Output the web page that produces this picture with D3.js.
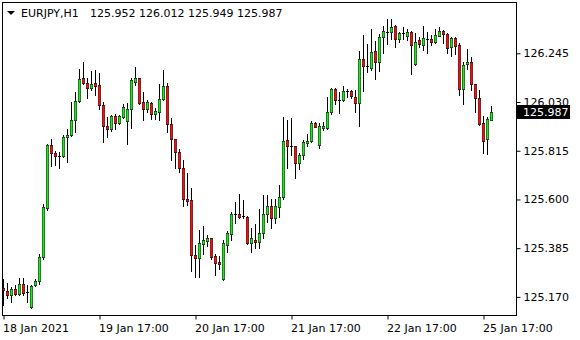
<!DOCTYPE html>
<html>
<head>
<meta charset="utf-8">
<script src="https://cdn.jsdelivr.net/npm/d3@7"></script>
<style>
  body { margin: 0; background: #fff; }
  svg { display: block; font-family: "DejaVu Sans", sans-serif; }
</style>
</head>
<body>
<div id="chart"></div>
<script>
const symbol = "EURJPY,H1"

// hourly bars, oldest first
const opens = [
  125.211, 125.195, 125.177, 125.207, 125.183, 125.229, 125.191, 125.126, 125.222, 125.241,
  125.347, 125.563, 125.840, 125.806, 125.791, 125.791, 125.874, 125.884, 125.949, 126.034,
  126.134, 126.112, 126.093, 126.112, 126.104, 126.017, 125.925, 125.911, 125.968, 125.936,
  125.965, 125.947, 125.999, 126.120, 126.134, 126.028, 125.998, 126.024, 125.975, 125.987,
  126.042, 126.099, 125.931, 125.865, 125.808, 125.741, 125.604, 125.596, 125.357, 125.342,
  125.404, 125.417, 125.428, 125.350, 125.322, 125.247, 125.401, 125.448, 125.538, 125.538,
  125.525, 125.523, 125.409, 125.423, 125.413, 125.454, 125.537, 125.572, 125.516, 125.566,
  125.612, 125.861, 125.836, 125.834, 125.759, 125.796, 125.847, 125.858, 125.937, 125.840,
  125.917, 125.917, 125.987, 126.087, 126.039, 126.037, 126.076, 126.079, 126.054, 126.024,
  126.220, 126.190, 126.182, 126.254, 126.205, 126.316, 126.339, 126.338, 126.366, 126.307,
  126.329, 126.323, 126.338, 126.196, 126.302, 126.280, 126.310, 126.307, 126.294, 126.323,
  126.342, 126.329, 126.271, 126.311, 126.283, 126.086, 126.196, 126.205, 126.108, 126.046,
  125.936, 125.865, 125.952
]
const highs = [
  125.248, 125.233, 125.214, 125.222, 125.254, 125.254, 125.222, 125.222, 125.248, 125.359,
  125.579, 125.843, 125.867, 125.814, 125.811, 125.884, 125.911, 126.031, 126.076, 126.176,
  126.208, 126.134, 126.167, 126.171, 126.157, 126.031, 125.965, 125.973, 125.975, 125.973,
  126.020, 126.027, 126.134, 126.184, 126.137, 126.076, 126.039, 126.031, 126.002, 126.109,
  126.171, 126.114, 125.958, 125.869, 125.822, 125.774, 125.716, 125.649, 125.398, 125.465,
  125.482, 125.442, 125.431, 125.361, 125.350, 125.420, 125.460, 125.546, 125.590, 125.622,
  125.597, 125.528, 125.472, 125.490, 125.557, 125.619, 125.619, 125.602, 125.602, 125.666,
  125.962, 125.949, 125.958, 125.837, 125.803, 125.862, 125.887, 125.946, 125.940, 125.936,
  125.943, 126.054, 126.093, 126.090, 126.076, 126.101, 126.087, 126.083, 126.083, 126.255,
  126.326, 126.285, 126.352, 126.301, 126.330, 126.366, 126.397, 126.395, 126.372, 126.339,
  126.363, 126.352, 126.344, 126.336, 126.319, 126.366, 126.341, 126.326, 126.354, 126.363,
  126.348, 126.333, 126.316, 126.316, 126.289, 126.207, 126.263, 126.227, 126.110, 126.083,
  125.968, 125.962, 126.012
]
const lows = [
  125.133, 125.166, 125.148, 125.177, 125.180, 125.177, 125.148, 125.119, 125.219, 125.228,
  125.337, 125.553, 125.749, 125.752, 125.740, 125.787, 125.766, 125.881, 125.896, 126.031,
  126.108, 126.046, 126.081, 126.061, 125.999, 125.852, 125.877, 125.902, 125.911, 125.931,
  125.961, 125.843, 125.917, 126.105, 126.023, 125.950, 125.987, 125.955, 125.955, 125.950,
  126.037, 125.896, 125.774, 125.740, 125.722, 125.572, 125.575, 125.283, 125.258, 125.258,
  125.360, 125.395, 125.337, 125.266, 125.292, 125.244, 125.366, 125.420, 125.494, 125.519,
  125.516, 125.404, 125.369, 125.384, 125.387, 125.428, 125.501, 125.472, 125.494, 125.523,
  125.602, 125.740, 125.796, 125.693, 125.734, 125.778, 125.834, 125.852, 125.918, 125.828,
  125.906, 125.911, 125.976, 126.020, 125.980, 126.034, 126.054, 126.046, 125.984, 125.925,
  126.079, 126.161, 126.171, 126.130, 126.168, 126.248, 126.285, 126.307, 126.271, 126.296,
  126.307, 126.304, 126.152, 126.193, 126.274, 126.258, 126.245, 126.280, 126.291, 126.320,
  126.292, 126.245, 126.235, 126.242, 126.061, 126.020, 126.174, 126.083, 125.984, 125.928,
  125.806, 125.800, 125.949
]
const closes = [
  125.200, 125.177, 125.207, 125.183, 125.229, 125.188, 125.186, 125.217, 125.242, 125.348,
  125.565, 125.840, 125.803, 125.791, 125.790, 125.875, 125.884, 125.949, 126.034, 126.132,
  126.112, 126.090, 126.108, 126.102, 126.017, 125.922, 125.911, 125.968, 125.936, 125.968,
  126.009, 125.999, 126.126, 126.134, 126.027, 125.998, 126.028, 125.975, 125.989, 126.043,
  126.099, 125.931, 125.865, 125.808, 125.740, 125.604, 125.594, 125.354, 125.342, 125.406,
  125.419, 125.429, 125.347, 125.320, 125.316, 125.410, 125.450, 125.538, 125.537, 125.523,
  125.522, 125.409, 125.428, 125.413, 125.454, 125.538, 125.572, 125.516, 125.569, 125.612,
  125.858, 125.834, 125.833, 125.759, 125.796, 125.852, 125.858, 125.937, 125.921, 125.924,
  125.924, 125.987, 126.087, 126.037, 126.036, 126.079, 126.077, 126.055, 126.024, 126.220,
  126.190, 126.189, 126.249, 126.205, 126.316, 126.344, 126.338, 126.360, 126.307, 126.333,
  126.335, 126.339, 126.280, 126.295, 126.285, 126.311, 126.308, 126.294, 126.324, 126.344,
  126.329, 126.267, 126.311, 126.279, 126.089, 126.193, 126.205, 126.108, 126.046, 125.933,
  125.859, 125.955, 125.987
]

const priceTicks = [125.170, 125.385, 125.600, 125.815, 126.030, 126.245]
const timeTickBars = [0, 24, 48, 72, 96, 120]
const timeTickLabels = ["18 Jan 2021", "19 Jan 17:00", "20 Jan 17:00", "21 Jan 17:00", "22 Jan 17:00", "25 Jan 17:00"]

const width = 580
const height = 340
const bullColor = "#14f014"
const bearColor = "#ff0a0a"

const bars = d3.range(opens.length).map(i => ({
  i: i, o: opens[i], h: highs[i], l: lows[i], c: closes[i]
}))
const last = bars[bars.length - 1]

const svg = d3.select("#chart")
  .append("svg")
  .attr("width", width)
  .attr("height", height)

const x = d3.scaleLinear().domain([0, bars.length - 1]).range([3.5, 491.5])
const y = d3.scaleLinear().domain([125.170, 126.245]).range([296.9, 53.3])

svg.append("clipPath")
  .attr("id", "plot-clip")
  .append("rect")
  .attr("x", 3)
  .attr("y", 3)
  .attr("width", 513)
  .attr("height", 312)

const plot = svg.append("g").attr("clip-path", "url(#plot-clip)")

// wicks
plot.selectAll("line.wick")
  .data(bars)
  .join("line")
  .attr("class", "wick")
  .attr("x1", d => x(d.i))
  .attr("x2", d => x(d.i))
  .attr("y1", d => Math.round(y(d.h)))
  .attr("y2", d => Math.round(y(d.l)) + 1)
  .attr("stroke", "#000")
  .attr("stroke-width", 1)

// bodies: thin black outline, coloured inside
bars.forEach(d => {
  let top = Math.round(y(Math.max(d.o, d.c)))
  let bot = Math.round(y(Math.min(d.o, d.c)))
  if (bot - top < 2) {
    plot.append("rect")
      .attr("x", x(d.i) - 1.5)
      .attr("y", top)
      .attr("width", 3)
      .attr("height", 1)
      .attr("fill", "#000")
  } else {
    plot.append("rect")
      .attr("x", x(d.i) - 1.25)
      .attr("y", top + 0.25)
      .attr("width", 2.5)
      .attr("height", bot - top + 0.5)
      .attr("fill", d.c >= d.o ? bullColor : bearColor)
      .attr("stroke", "#000")
      .attr("stroke-width", 0.5)
  }
})

// frame
svg.append("rect")
  .attr("x", 2.5)
  .attr("y", 2.5)
  .attr("width", 514)
  .attr("height", 313)
  .attr("fill", "none")
  .attr("stroke", "#000")
  .attr("stroke-width", 1)

// price axis
const yAxis = svg.append("g")
  .attr("transform", "translate(516.5,0)")
  .call(d3.axisRight(y).tickValues(priceTicks).tickSize(4).tickPadding(3).tickFormat(d3.format(".3f")))
yAxis.select(".domain").remove()
yAxis.selectAll("text")
  .attr("font-family", "DejaVu Sans")
  .attr("font-size", 11)
  .attr("fill", "#000")

// time axis
const xAxis = svg.append("g")
  .attr("transform", "translate(0,315.5)")
  .call(d3.axisBottom(x).tickValues(timeTickBars).tickSize(4)
    .tickFormat((d, k) => timeTickLabels[k]))
xAxis.select(".domain").remove()
xAxis.selectAll("text")
  .attr("text-anchor", "start")
  .attr("x", -1)
  .attr("y", 16.5)
  .attr("dy", 0)
  .attr("font-family", "DejaVu Sans")
  .attr("font-size", 11)
  .attr("fill", "#000")

// current price tag
const fmt = d3.format(".3f")
svg.append("rect")
  .attr("x", 517)
  .attr("y", Math.round(y(last.c)) - 7)
  .attr("width", 53)
  .attr("height", 14)
  .attr("fill", "#000")
svg.append("text")
  .attr("x", 523)
  .attr("y", y(last.c))
  .attr("dy", "0.36em")
  .attr("font-size", 11)
  .attr("fill", "#fff")
  .text(fmt(last.c))

// header
svg.append("path")
  .attr("d", "M7,11L15,11L11,15Z")
  .attr("fill", "#000")
svg.append("text")
  .attr("x", 21)
  .attr("y", 17)
  .attr("font-size", 11)
  .attr("fill", "#000")
  .text(symbol)
svg.append("text")
  .attr("x", 90)
  .attr("y", 17)
  .attr("font-size", 11)
  .attr("fill", "#000")
  .text([last.o, last.h, last.l, last.c].map(fmt).join(" "))
</script>
</body>
</html>
